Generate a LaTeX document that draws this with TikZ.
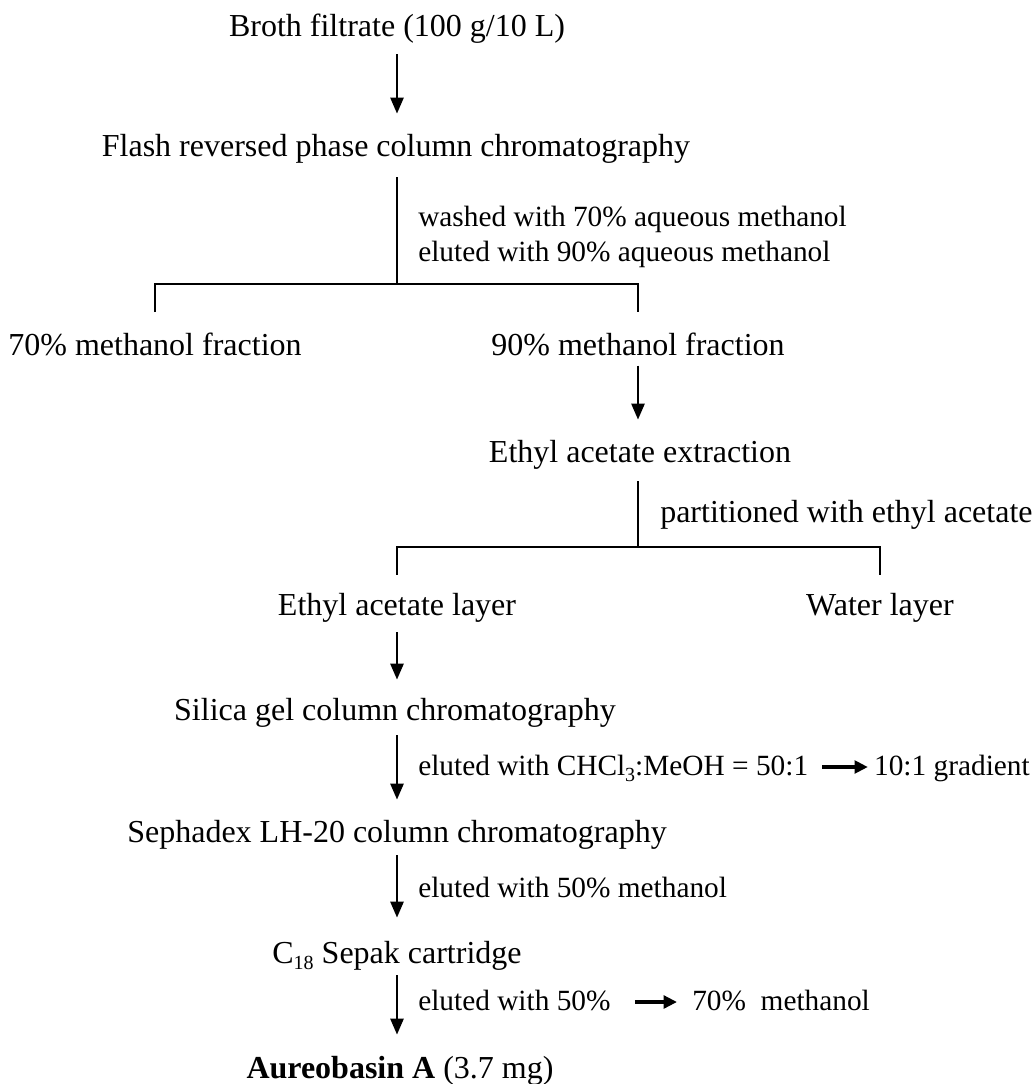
\documentclass[tikz,border=0pt]{standalone}
\usepackage{fontspec}
\setmainfont{Liberation Serif}
\usetikzlibrary{arrows.meta,calc}
\newcommand{\sbs}[1]{\raisebox{-0.45ex}{\fontsize{15}{15}\selectfont #1}}
\begin{document}
\begin{tikzpicture}[x=0.75pt,y=-0.75pt,
  txt/.style={inner sep=0pt, anchor=base, font=\fontsize{24}{28}\selectfont},
  lab/.style={inner sep=0pt, anchor=base west, font=\fontsize{22}{26}\selectfont},
  ln/.style={line width=1.4pt},
  arr/.style={line width=1.4pt, -{Triangle[width=10pt,length=12pt]}},
  sarr/.style={line width=2.6pt, -{Triangle[width=9.5pt,length=10pt]}}]
\useasboundingbox (0,0) rectangle (1034,1084);
\coordinate (ax) at (397,0);
% nodes
\node[txt] (broth) at (397,37) {Broth filtrate (100 g/10 L)};
\node[txt] (flash) at (396,157) {Flash reversed phase column chromatography};
\node[lab] (w1) at (418,227) {washed with 70\% aqueous methanol};
\node[lab] (w2) at (418,262) {eluted with 90\% aqueous methanol};
\coordinate (j1) at (397,284);
\coordinate (j1l) at (155,284);
\coordinate (j1r) at (638,284);
\node[txt] (f70) at (155,355) {70\% methanol fraction};
\node[txt] (f90) at (638,355) {90\% methanol fraction};
\node[txt] (ext) at (640,462) {Ethyl acetate extraction};
\node[lab, font=\fontsize{24}{28}\selectfont] (part) at (660,522) {partitioned with ethyl acetate};
\coordinate (j2) at (638,547);
\coordinate (j2l) at (397,547);
\coordinate (j2r) at (880,547);
\node[txt] (eal) at (397,615) {Ethyl acetate layer};
\node[txt] (wat) at (880,615) {Water layer};
\node[txt] (sil) at (395,720) {Silica gel column chromatography};
\node[lab] (e1a) at (418,775) {eluted with CHCl\sbs{3}:MeOH = 50:1};
\node[lab, anchor=base east] (e1b) at (1030,775) {10:1 gradient};
\node[txt] (sep) at (397,842) {Sephadex LH-20 column chromatography};
\node[lab] (e2) at (418,897) {eluted with 50\% methanol};
\node[txt] (c18) at (397,963) {C\sbs{18} Sepak cartridge};
\node[lab] (e3a) at (418,1010) {eluted with 50\%};
\node[lab] (e3b) at (692,1010) {70\%\ \ methanol};
\node[txt] (aur) at (400,1078) {\textbf{Aureobasin A} (3.7 mg)};
% connectors
\draw[arr] ($(broth.south-|ax)+(0,10)$) -- ($(flash.north-|ax)+(0,-21)$);
\draw[ln] ($(flash.south-|ax)+(0,13)$) -- (j1);
\draw[ln] ($(f70.north)+(0,-20)$) -- (j1l) -- (j1r) -- ($(f90.north)+(0,-20)$);
\draw[arr] ($(f90.south)+(0,10)$) -- ($(ext.north-|f90)+(0,-20)$);
\draw[ln] ($(ext.south-|j2)+(0,12)$) -- (j2);
\draw[ln] ($(eal.north)+(0,-18)$) -- (j2l) -- (j2r) -- ($(wat.north)+(0,-18)$);
\draw[arr] ($(eal.south)+(0,10)$) -- ($(sil.north-|ax)+(0,-18)$);
\draw[arr] ($(sil.south-|ax)+(0,8)$) -- ($(sep.north-|ax)+(0,-20)$);
\draw[arr] ($(sep.south-|ax)+(0,6)$) -- ($(c18.north-|ax)+(0,-23)$);
\draw[arr] ($(c18.south-|ax)+(0,5)$) -- ($(aur.north-|ax)+(0,-21)$);
\draw[sarr] ($(e1a.base east)+(14,-8)$) -- ($(e1b.base west)+(-6,-8)$);
\draw[sarr] ($(e3a.base east)+(24,-8)$) -- ($(e3b.base west)+(-15,-8)$);
\end{tikzpicture}
\end{document}
